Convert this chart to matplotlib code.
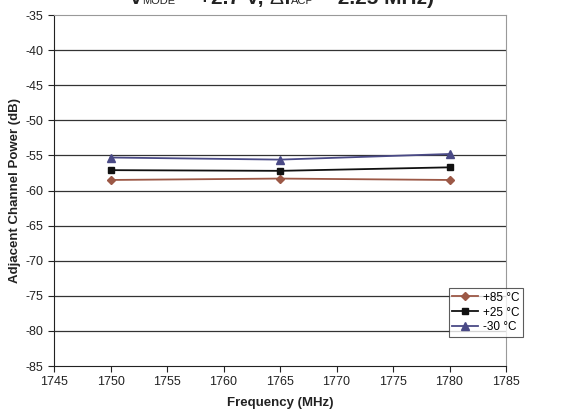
import matplotlib
matplotlib.use("Agg")
import matplotlib.pyplot as plt

plt.rcParams['font.family'] = ['Liberation Sans', 'DejaVu Sans']
plt.rcParams['axes.unicode_minus'] = False

freq = [1750, 1765, 1780]
p85 = [-58.5, -58.3, -58.5]
p25 = [-57.1, -57.2, -56.7]
m30 = [-55.3, -55.6, -54.8]
labels = ['+85 °C', '+25 °C', '-30 °C']
xticks = list(range(1745, 1786, 5))
yticks = list(range(-85, -34, 5))
title_parts = [('V', 15, 'bold'), ('MODE', 8, 'normal'), (' = +2.7 V, ', 15, 'bold'),
               ('Δ', 15, 'normal'), ('f', 15, 'bold'), ('ACP', 8, 'normal'),
               (' = 2.25 MHz)', 15, 'bold')]

fig = plt.figure(figsize=(5.63, 4.17), dpi=100)
ax = fig.add_axes([54/563, 1-366/417, (506-54)/563, (366-15)/417])

ax.plot(freq, p85, color='#9c5846', marker='D', markersize=4, lw=1.3, label=labels[0])
ax.plot(freq, p25, color='#111111', marker='s', markersize=5, lw=1.3, label=labels[1])
ax.plot(freq, m30, color='#4a4a86', marker='^', markersize=6, lw=1.3, label=labels[2])

ax.set_xlim(1745, 1785)
ax.set_ylim(-85, -35)
ax.set_xticks(xticks)
ax.set_yticks(yticks)
ax.tick_params(labelsize=9, direction='out', length=4, color='#222222', labelcolor='#222222')
for y in yticks[1:-1]:
    ax.axhline(y, color='#333333', lw=0.9, zorder=0)
ax.spines['top'].set_color('#999999')
ax.spines['right'].set_color('#999999')
ax.spines['left'].set_color('#222222')
ax.spines['bottom'].set_color('#222222')

ax.set_xlabel('Frequency (MHz)', fontsize=9.5, fontweight='bold', color='#222222', labelpad=6)
ax.set_ylabel('Adjacent Channel Power (dB)', fontsize=9.5, fontweight='bold', color='#222222', labelpad=3)

leg = ax.legend(loc='lower right', bbox_to_anchor=(523/563, 1-337/417), bbox_transform=fig.transFigure,
                fontsize=8.5, frameon=True, fancybox=False, borderpad=0.3, labelspacing=0.25,
                handlelength=2.2, handletextpad=0.4, borderaxespad=0)
leg.get_frame().set_edgecolor('#333333')
leg.get_frame().set_linewidth(0.8)

# title pieces on a common baseline (the top of the title is cropped off in the reference)
renderer = fig.canvas.get_renderer()
baseline_px = 417 - 4
texts = []
x = 0.0
for s, fs, fw in title_parts:
    t = fig.text(x, baseline_px, s, transform=None, fontsize=fs, fontweight=fw,
                 color='#222222', ha='left', va='baseline')
    w = t.get_window_extent(renderer).width
    texts.append((t, x))
    x += w
total = x
start = 281 - total / 2
for t, off in texts:
    t.set_position((start + off, baseline_px))

fig.savefig('out.png', dpi=100)
